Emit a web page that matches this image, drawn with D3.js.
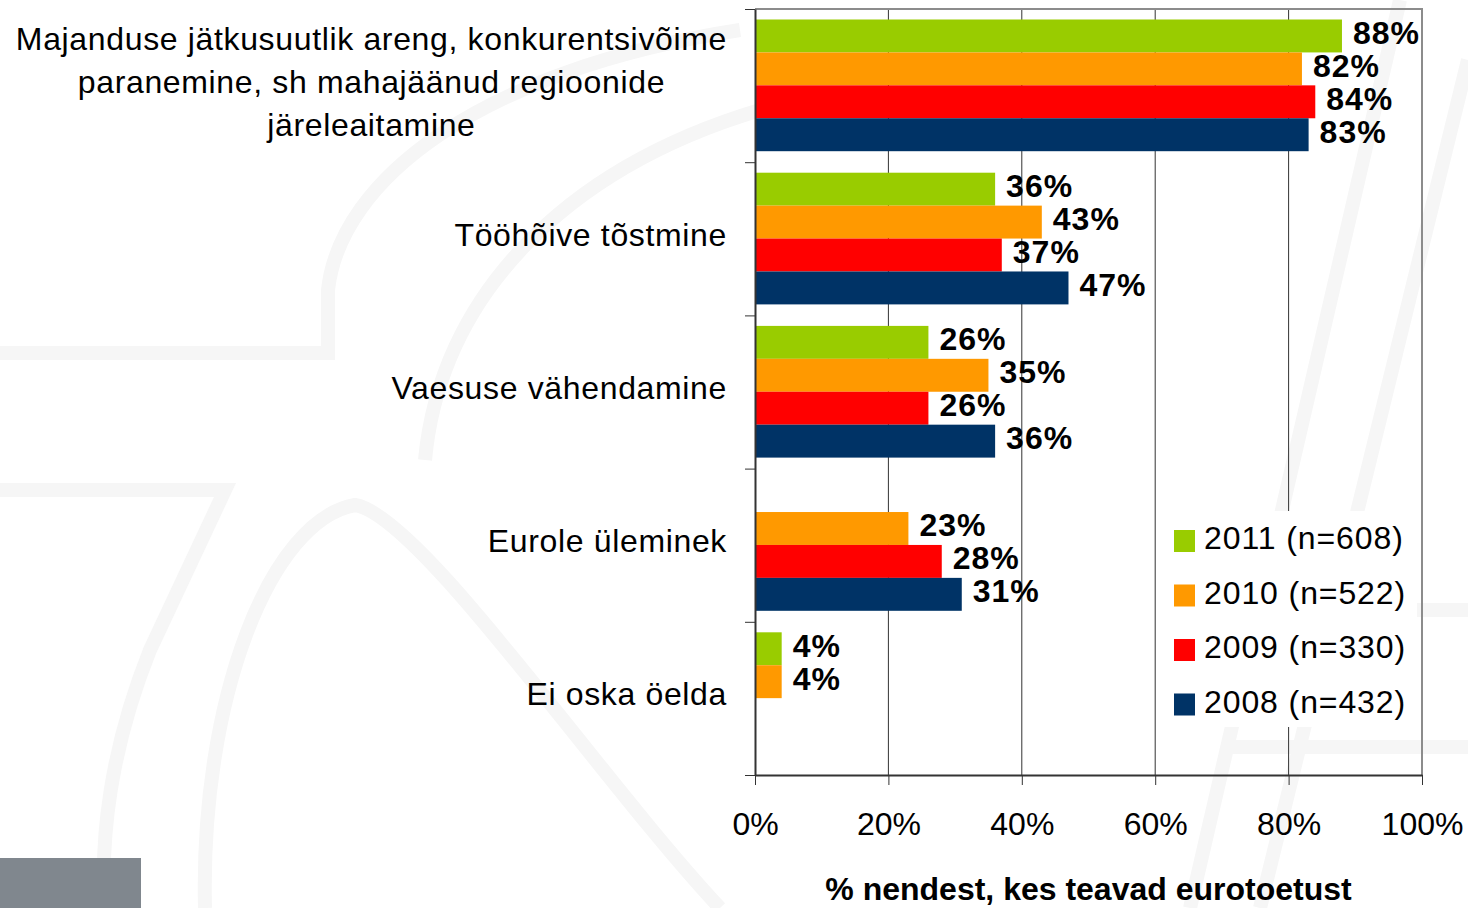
<!DOCTYPE html>
<html>
<head>
<meta charset="utf-8">
<script src="https://cdn.jsdelivr.net/npm/d3@7"></script>
<style>
    body { margin: 0; background: #fff; }
    svg { display: block; font-family: "Liberation Sans", Arial, sans-serif; }
</style>
</head>
<body>
<svg id="drawing_region"></svg>
<script>
const categories = [
    "Majanduse jätkusuutlik areng, konkurentsivõime\nparanemine, sh mahajäänud regioonide\njäreleaitamine",
    "Tööhõive tõstmine",
    "Vaesuse vähendamine",
    "Eurole üleminek",
    "Ei oska öelda"
];
const seriesNames = ["2011 (n=608)", "2010 (n=522)", "2009 (n=330)", "2008 (n=432)"];
const seriesColors = ["#99cc00", "#ff9900", "#ff0000", "#003366"];
const values2011 = [88, 36, 26, null, 4];
const values2010 = [82, 43, 35, 23, 4];
const values2009 = [84, 37, 26, 28, null];
const values2008 = [83, 47, 36, 31, null];
const xTicks = [0, 20, 40, 60, 80, 100];
const xTitle = "% nendest, kes teavad eurotoetust";

const seriesValues = [values2011, values2010, values2009, values2008];

const config = {
    width: 1468,
    height: 908,
    plot: { left: 755, right: 1422, top: 9, bottom: 775 },
    labelRight: 727
};

const svg = d3.select('#drawing_region')
    .attr('width', config.width)
    .attr('height', config.height);

// faint logo watermark in the background
const wm = svg.append('g')
    .attr('fill', 'none')
    .attr('stroke', '#f6f6f6')
    .attr('stroke-width', 14);
[
    "M0,353 H328 V290 C340,180 480,70 740,30",
    "M425,460 C440,300 560,170 760,110",
    "M0,490 H225 L150,650 C110,750 100,840 105,908",
    "M205,908 C200,700 270,520 355,505 C420,515 600,780 720,908",
    "M1468,60 L1260,908",
    "M1400,0 L1190,908",
    "M1468,610 H1270",
    "M1468,747 H1232"
].forEach(d => wm.append('path').attr('d', d));

svg.append('rect')
    .attr('x', 0).attr('y', 858)
    .attr('width', 141).attr('height', 50)
    .attr('fill', '#80878e');

const p = config.plot;

const x = d3.scaleLinear()
    .domain([0, 100])
    .range([p.left, p.right]);

const y0 = d3.scaleBand()
    .domain(categories)
    .range([p.top, p.bottom]);

const y1 = d3.scaleBand()
    .domain(seriesNames)
    .range([10.5, y0.bandwidth() - 11]);

// gridlines
svg.append('g')
    .selectAll('line')
    .data(xTicks.slice(1, -1))
    .enter()
    .append('line')
    .attr('x1', d => x(d)).attr('x2', d => x(d))
    .attr('y1', p.top).attr('y2', p.bottom)
    .attr('stroke', '#333')
    .attr('stroke-width', 1);

// plot frame (top and right)
svg.append('path')
    .attr('d', `M${p.left},${p.top} H${p.right} V${p.bottom}`)
    .attr('fill', 'none')
    .attr('stroke', '#8c8c8c')
    .attr('stroke-width', 2);

// bars
const rows = categories.map((c, i) => ({
    cat: c,
    bars: seriesNames.map((s, j) => ({ series: s, value: seriesValues[j][i], color: seriesColors[j] }))
        .filter(b => b.value != null)
}));

const groups = svg.append('g')
    .selectAll('g')
    .data(rows)
    .enter()
    .append('g')
    .attr('transform', d => `translate(0, ${y0(d.cat)})`);

groups.selectAll('rect')
    .data(d => d.bars)
    .enter()
    .append('rect')
    .attr('x', x(0))
    .attr('y', d => y1(d.series))
    .attr('width', d => x(d.value) - x(0))
    .attr('height', y1.bandwidth())
    .attr('fill', d => d.color);

groups.selectAll('text')
    .data(d => d.bars)
    .enter()
    .append('text')
    .attr('x', d => x(d.value) + 11)
    .attr('y', d => y1(d.series) + y1.bandwidth() / 2 + 8)
    .attr('font-size', 32)
    .attr('font-weight', 'bold')
    .attr('letter-spacing', 1)
    .attr('fill', '#000')
    .text(d => d.value + '%');

// left axis with ticks between categories
const yEdges = d3.scaleLinear().domain([0, categories.length]).range([p.top, p.bottom]);
const yAxis = svg.append('g')
    .attr('transform', `translate(${p.left}, 0)`)
    .call(d3.axisLeft(yEdges).ticks(categories.length).tickFormat('').tickSize(10).tickSizeOuter(0));
yAxis.select('.domain').attr('stroke', '#333').attr('stroke-width', 2);
yAxis.selectAll('.tick line').attr('stroke', '#333');

// bottom axis
const xAxis = svg.append('g')
    .attr('transform', `translate(0, ${p.bottom})`)
    .call(d3.axisBottom(x).tickValues(xTicks).tickFormat(d => d + '%').tickSize(10).tickSizeOuter(0).tickPadding(27));
xAxis.select('.domain').attr('stroke', '#333').attr('stroke-width', 2);
xAxis.selectAll('.tick line').attr('stroke', '#333');
xAxis.selectAll('.tick text')
    .attr('font-size', 32)
    .attr('font-family', '"Liberation Sans", Arial, sans-serif')
    .attr('fill', '#000');

// category labels
const lineGap = 43;
categories.forEach(c => {
    const lines = c.split('\n');
    const cy = y0(c) + y0.bandwidth() / 2 + 7 - (lines.length - 1) * lineGap / 2;
    const t = svg.append('text')
        .attr('font-size', 32)
        .attr('letter-spacing', 0.65)
        .attr('fill', '#000');
    lines.forEach((l, i) => {
        t.append('tspan').attr('y', cy + i * lineGap).text(l);
    });
    if (lines.length > 1) {
        const maxW = d3.max(t.selectAll('tspan').nodes(), n => n.getComputedTextLength());
        t.attr('text-anchor', 'middle');
        t.selectAll('tspan').attr('x', config.labelRight - maxW / 2);
    } else {
        t.attr('text-anchor', 'end');
        t.selectAll('tspan').attr('x', config.labelRight);
    }
});

// x axis title
svg.append('text')
    .attr('x', (p.left + p.right) / 2)
    .attr('y', 900)
    .attr('text-anchor', 'middle')
    .attr('font-size', 32)
    .attr('font-weight', 'bold')
    .text(xTitle);

// legend
const legend = svg.append('g');
legend.append('rect')
    .attr('x', 1165).attr('y', 511)
    .attr('width', 252).attr('height', 216)
    .attr('fill', '#fff');
const items = legend.selectAll('g.item')
    .data(seriesNames)
    .enter()
    .append('g')
    .attr('class', 'item')
    .attr('transform', (d, i) => `translate(1174, ${530 + i * 54.5})`);
items.append('rect')
    .attr('width', 21).attr('height', 22)
    .attr('fill', (d, i) => seriesColors[i]);
items.append('text')
    .attr('x', 30).attr('y', 19)
    .attr('font-size', 32)
    .attr('letter-spacing', 0.9)
    .attr('fill', '#000')
    .text(d => d);
</script>
</body>
</html>
